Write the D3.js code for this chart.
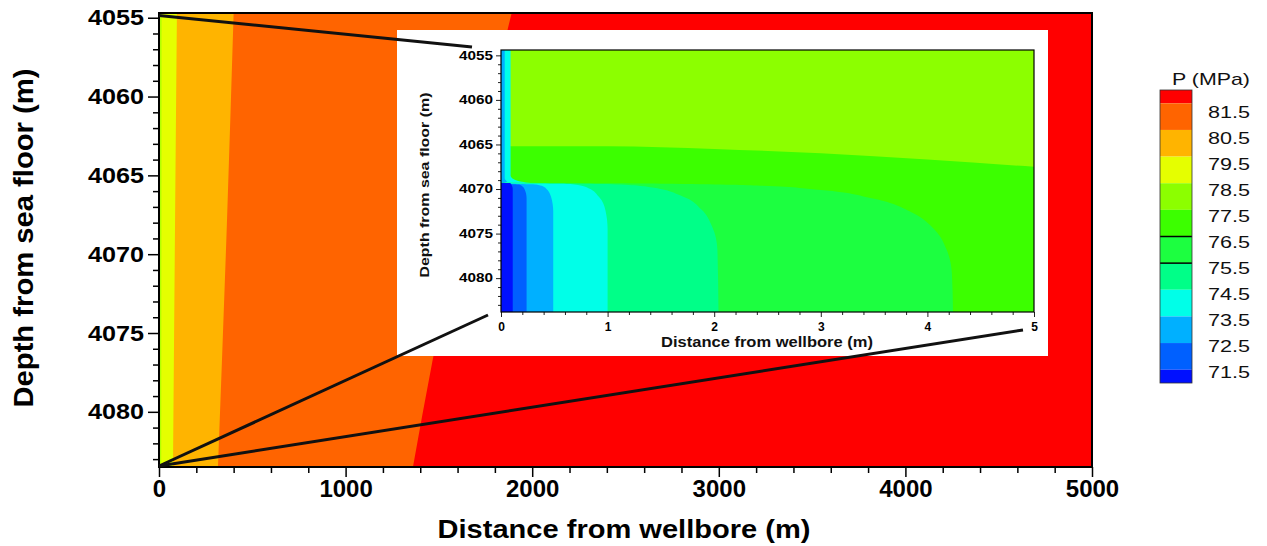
<!DOCTYPE html>
<html><head><meta charset="utf-8">
<script src="https://cdn.jsdelivr.net/npm/d3@7"></script>
<style>
body{margin:0;background:#fff;}
svg{display:block;font-family:"Liberation Sans",Arial,sans-serif;}
</style></head><body>
<svg id="c" width="1267" height="546"></svg>
<script>
// ---------------- data ----------------
const mainXDomain = [0, 5000];
const mainYDomain = [4054.7, 4083.5];
const mainXTicks = [0, 1000, 2000, 3000, 4000, 5000];
const mainYTicks = [4055, 4060, 4065, 4070, 4075, 4080];
// contour boundaries in main view: [distance m, depth m], top -> bottom
const mainB0 = [[14, 4054.7], [12, 4083.5]];
const mainB1 = [[96, 4054.7], [86, 4068], [75, 4083.5]];
const mainB2 = [[400, 4054.7], [364, 4068], [316, 4083.5]];
const mainB3 = [[1890, 4054.7], [1465, 4076.8], [1361, 4083.5]];
const mainFill = ["#ff0000", "#ff6400", "#ffb400", "#e5ff00", "#b4ff00"]; // back -> front

const insetXDomain = [0, 5];
const insetYDomain = [4054.4, 4083.8];
const insetXTicks = [0, 1, 2, 3, 4, 5];
const insetYTicks = [4055, 4060, 4065, 4070, 4075, 4080];
// inset contour boundaries
const insetUpper = [[0, 4065.2], [1, 4065.2], [2, 4065.5], [3, 4066.0], [4, 4066.7], [5, 4067.5]];
const insetStripCyan = [[0.09, 4054.4], [0.09, 4068.5], [0.16, 4069.1], [0.3, 4069.35]];
const insetStripBlue = [[0.035, 4054.4], [0.035, 4068.8], [0.06, 4069.2]];
const insetC7 = [[0, 4069.3], [1.5, 4069.4], [2.4, 4069.6], [3.0, 4070.1], [3.5, 4071.1], [3.85, 4072.6], [4.07, 4074.6], [4.18, 4076.8], [4.23, 4079.5], [4.24, 4083.8]];
const insetC8 = [[0, 4069.35], [1.0, 4069.45], [1.4, 4069.8], [1.7, 4070.8], [1.88, 4072.3], [1.98, 4074.2], [2.03, 4076.8], [2.04, 4083.8]];
const insetC9 = [[0, 4069.35], [0.65, 4069.45], [0.82, 4069.9], [0.92, 4070.9], [0.98, 4072.4], [1.0, 4074.5], [1.0, 4083.8]];
const insetC10 = [[0, 4069.4], [0.33, 4069.5], [0.42, 4069.9], [0.47, 4070.9], [0.49, 4072.5], [0.49, 4083.8]];
const insetC11 = [[0, 4069.4], [0.17, 4069.5], [0.22, 4070.0], [0.24, 4071.0], [0.24, 4083.8]];
const insetC12 = [[0, 4069.3], [0.09, 4069.35], [0.11, 4070], [0.11, 4083.8]];

const legendLabels = [81.5, 80.5, 79.5, 78.5, 77.5, 76.5, 75.5, 74.5, 73.5, 72.5, 71.5];
const legendEdges = [82, 81.5, 80.5, 79.5, 78.5, 77.5, 76.5, 75.5, 74.5, 73.5, 72.5, 71.5, 71];
const legendColors = ["#ff0000", "#ff6400", "#ffb400", "#e5ff00", "#8cff00", "#3cff00",
                      "#1cff40", "#00ff88", "#00ffe8", "#00b0ff", "#0060ff", "#0010ff"];
const legendLines = [76.5, 75.5];

// ---------------- drawing ----------------
const svg = d3.select("#c");
const defs = svg.append("defs");

function closed(xs, ys, boundary, closing, curve) {
  const ln = d3.line().x(d => xs(d[0])).y(d => ys(d[1])).curve(curve || d3.curveLinear);
  let p = ln(boundary);
  closing.forEach(c => { p += "L" + xs(c[0]) + "," + ys(c[1]); });
  return p + "Z";
}

// ---- main plot ----
const xM = d3.scaleLinear().domain(mainXDomain).range([159, 1092]);
const yM = d3.scaleLinear().domain(mainYDomain).range([13, 467]);
const gM = svg.append("g");
gM.append("rect").attr("x", xM(0)).attr("y", yM(mainYDomain[0]))
  .attr("width", xM(5000) - xM(0)).attr("height", yM(mainYDomain[1]) - yM(mainYDomain[0]))
  .attr("fill", mainFill[0]);
[mainB3, mainB2, mainB1, mainB0].forEach((b, i) => {
  gM.append("path").attr("fill", mainFill[i + 1])
    .attr("d", closed(xM, yM, b, [[0, b[b.length - 1][1]], [0, b[0][1]]], d3.curveMonotoneY));
});

// axes main
const ax = gM.append("g").attr("transform", `translate(0,${yM(mainYDomain[1])})`);
ax.call(d3.axisBottom(xM).tickValues(d3.range(0, 5001, 200).filter(v => v % 1000)).tickSize(6).tickFormat(""));
ax.call(g => g.select(".domain").remove());
const ax2 = gM.append("g").attr("transform", `translate(0,${yM(mainYDomain[1])})`);
ax2.call(d3.axisBottom(xM).tickValues(mainXTicks).tickSize(10).tickPadding(3).tickFormat(d3.format("d")));
ax2.call(g => g.select(".domain").remove());
ax2.selectAll("text").attr("font-size", 24).attr("font-weight", "bold").attr("fill", "#000")
  .attr("font-family", "Liberation Sans, Arial, sans-serif");

const ay = gM.append("g").attr("transform", `translate(${xM(0)},0)`);
ay.call(d3.axisLeft(yM).tickValues(d3.range(4055, 4084, 1).filter(v => v % 5)).tickSize(6).tickFormat(""));
ay.call(g => g.select(".domain").remove());
const ay2 = gM.append("g").attr("transform", `translate(${xM(0)},0)`);
ay2.call(d3.axisLeft(yM).tickValues(mainYTicks).tickSize(11).tickPadding(4).tickFormat(d3.format("d")));
ay2.call(g => g.select(".domain").remove());
ay2.selectAll("text").attr("font-size", 22).attr("font-weight", "bold").attr("fill", "#000")
  .attr("textLength", 56).attr("lengthAdjust", "spacingAndGlyphs")
  .attr("font-family", "Liberation Sans, Arial, sans-serif");
gM.selectAll(".tick line").attr("stroke", "#000").attr("stroke-width", 1.5);

gM.append("rect").attr("x", xM(0)).attr("y", yM(mainYDomain[0]))
  .attr("width", xM(5000) - xM(0)).attr("height", yM(mainYDomain[1]) - yM(mainYDomain[0]))
  .attr("fill", "none").attr("stroke", "#000").attr("stroke-width", 2);

svg.append("text").attr("x", 624).attr("y", 538).attr("text-anchor", "middle")
  .attr("font-size", 26).attr("font-weight", "bold").attr("textLength", 373)
  .attr("lengthAdjust", "spacingAndGlyphs").text("Distance from wellbore (m)");
svg.append("text").attr("transform", "translate(33,238) rotate(-90)").attr("text-anchor", "middle")
  .attr("font-size", 27).attr("font-weight", "bold").attr("textLength", 339)
  .attr("lengthAdjust", "spacingAndGlyphs").text("Depth from sea floor (m)");

// ---- inset ----
const xI = d3.scaleLinear().domain(insetXDomain).range([501, 1034]);
const yI = d3.scaleLinear().domain(insetYDomain).range([50, 312]);
svg.append("rect").attr("x", 397).attr("y", 30).attr("width", 651).attr("height", 326).attr("fill", "#fff");
defs.append("clipPath").attr("id", "ic").append("rect")
  .attr("x", xI(0)).attr("y", yI(insetYDomain[0])).attr("width", xI(5) - xI(0))
  .attr("height", yI(insetYDomain[1]) - yI(insetYDomain[0]));
const gI = svg.append("g").attr("clip-path", "url(#ic)");
gI.append("rect").attr("x", xI(0)).attr("y", yI(insetYDomain[0])).attr("width", xI(5) - xI(0))
  .attr("height", yI(insetYDomain[1]) - yI(insetYDomain[0])).attr("fill", legendColors[4]);
gI.append("path").attr("fill", legendColors[5])
  .attr("d", closed(xI, yI, insetUpper, [[5, 4083.8], [0, 4083.8]], d3.curveMonotoneX));
gI.append("path").attr("fill", legendColors[8])
  .attr("d", closed(xI, yI, insetStripCyan, [[0, 4069.35], [0, 4054.4]], d3.curveMonotoneY));
gI.append("path").attr("fill", legendColors[9])
  .attr("d", closed(xI, yI, insetStripBlue, [[0, 4069.2], [0, 4054.4]], d3.curveMonotoneY));
[insetC7, insetC8, insetC9, insetC10, insetC11, insetC12].forEach((b, i) => {
  gI.append("path").attr("fill", legendColors[6 + i])
    .attr("d", closed(xI, yI, b, [[0, 4083.8]], d3.curveMonotoneY));
});

const gIA = svg.append("g");
const ix = gIA.append("g").attr("transform", `translate(0,${yI(insetYDomain[1])})`);
ix.call(d3.axisBottom(xI).tickValues(d3.range(0, 5.01, 0.2).filter(v => Math.abs(v - Math.round(v)) > 0.01)).tickSize(3).tickFormat(""));
ix.call(g => g.select(".domain").remove());
const ix2 = gIA.append("g").attr("transform", `translate(0,${yI(insetYDomain[1])})`);
ix2.call(d3.axisBottom(xI).tickValues(insetXTicks).tickSize(5).tickPadding(5).tickFormat(d3.format("d")));
ix2.call(g => g.select(".domain").remove());
ix2.selectAll("text").attr("font-size", 12).attr("font-weight", "bold").attr("fill", "#000")
  .attr("font-family", "Liberation Sans, Arial, sans-serif");
const iy = gIA.append("g").attr("transform", `translate(${xI(0)},0)`);
iy.call(d3.axisLeft(yI).tickValues(d3.range(4055, 4084, 1).filter(v => v % 5)).tickSize(3).tickFormat(""));
iy.call(g => g.select(".domain").remove());
const iy2 = gIA.append("g").attr("transform", `translate(${xI(0)},0)`);
iy2.call(d3.axisLeft(yI).tickValues(insetYTicks).tickSize(5).tickPadding(3).tickFormat(d3.format("d")));
iy2.call(g => g.select(".domain").remove());
iy2.selectAll("text").attr("font-size", 12).attr("font-weight", "bold").attr("fill", "#000")
  .attr("textLength", 34).attr("lengthAdjust", "spacingAndGlyphs")
  .attr("font-family", "Liberation Sans, Arial, sans-serif");
gIA.selectAll(".tick line").attr("stroke", "#222").attr("stroke-width", 1);
gIA.append("rect").attr("x", xI(0)).attr("y", yI(insetYDomain[0])).attr("width", xI(5) - xI(0))
  .attr("height", yI(insetYDomain[1]) - yI(insetYDomain[0]))
  .attr("fill", "none").attr("stroke", "#000").attr("stroke-width", 1.2);
svg.append("text").attr("x", 767).attr("y", 347).attr("text-anchor", "middle")
  .attr("font-size", 15).attr("font-weight", "bold").attr("fill", "#111").attr("textLength", 212)
  .attr("lengthAdjust", "spacingAndGlyphs").text("Distance from wellbore (m)");
svg.append("text").attr("transform", "translate(429,185) rotate(-90)").attr("text-anchor", "middle")
  .attr("font-size", 13).attr("font-weight", "bold").attr("fill", "#111").attr("textLength", 185)
  .attr("lengthAdjust", "spacingAndGlyphs").text("Depth from sea floor (m)");

// ---- zoom connector lines ----
const conn = [
  [[xM(0), yM(mainYDomain[0]) + 2.5], [xI(0) - 29, yI(insetYDomain[0]) - 3]],
  [[xM(0), yM(mainYDomain[1]) - 1], [xI(0) - 13, yI(insetYDomain[1]) + 3]],
  [[xM(0), yM(mainYDomain[1]) - 1], [xI(5) - 11, yI(insetYDomain[1]) + 18]]
];
svg.append("g").selectAll("line").data(conn).join("line")
  .attr("x1", d => d[0][0]).attr("y1", d => d[0][1]).attr("x2", d => d[1][0]).attr("y2", d => d[1][1])
  .attr("stroke", "#111").attr("stroke-width", 3);

// ---- legend ----
const lv = d3.scaleLinear().domain([82, 71]).range([90, 383]);
const gL = svg.append("g");
gL.append("text").attr("x", 1211).attr("y", 85).attr("text-anchor", "middle").attr("font-size", 17)
  .attr("fill", "#111").attr("textLength", 78).attr("lengthAdjust", "spacingAndGlyphs").text("P (MPa)");
gL.selectAll("rect.box").data(legendColors).join("rect").attr("class", "box")
  .attr("x", 1160).attr("width", 32)
  .attr("y", (d, i) => lv(legendEdges[i])).attr("height", (d, i) => lv(legendEdges[i + 1]) - lv(legendEdges[i]))
  .attr("fill", d => d);
gL.selectAll("line.lv").data(legendLines).join("line").attr("class", "lv")
  .attr("x1", 1160).attr("x2", 1192).attr("y1", d => lv(d)).attr("y2", d => lv(d))
  .attr("stroke", "#000").attr("stroke-width", 1.5);
gL.append("rect").attr("x", 1160).attr("y", lv(82)).attr("width", 32).attr("height", lv(71) - lv(82))
  .attr("fill", "none").attr("stroke", "#333").attr("stroke-width", 0.8);
const ll = d3.scalePoint().domain(legendLabels).range([112, 372]);
gL.selectAll("text.lab").data(legendLabels).join("text").attr("class", "lab")
  .attr("x", 1208).attr("y", d => ll(d)).attr("dy", "0.36em").attr("font-size", 16).attr("fill", "#111")
  .attr("textLength", 42).attr("lengthAdjust", "spacingAndGlyphs").text(d => d3.format(".1f")(d));
</script>
</body></html>
